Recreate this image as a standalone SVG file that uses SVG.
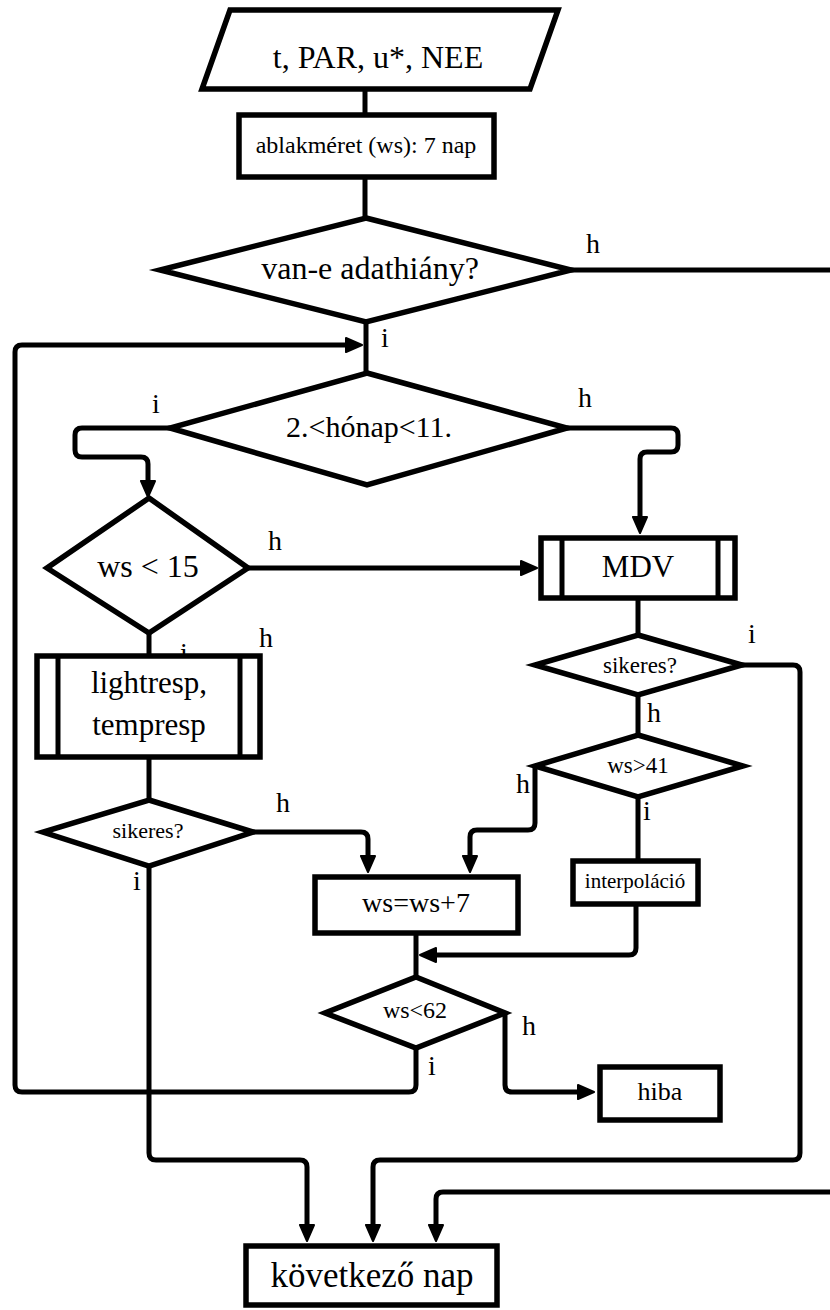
<svg xmlns="http://www.w3.org/2000/svg" width="830" height="1310" viewBox="0 0 830 1310" font-family="'Liberation Serif', 'DejaVu Serif', 'Noto Serif', 'Times New Roman', serif">
<style>
  text { font-family: 'Liberation Serif', 'DejaVu Serif', 'Noto Serif', 'Times New Roman', serif; fill: #000; }
  .c { text-anchor: middle; }
  .lbl { font-size: 28px; }
  .shape { fill: #fff; stroke: #000; stroke-width: 5.5; stroke-linejoin: miter; stroke-miterlimit: 10; }
  .inner { stroke: #000; stroke-width: 5; fill: none; }
  .conn { fill: none; stroke: #000; stroke-width: 5; stroke-linejoin: round; }
  .arr { marker-end: url(#arr); }
</style>
<defs>
  <marker id="arr" markerUnits="userSpaceOnUse" markerWidth="18" markerHeight="18" viewBox="0 0 18 18" refX="11" refY="9" orient="auto">
    <path d="M1,2 L17,9 L1,16 Z" fill="#000" stroke="#000" stroke-width="2" stroke-linejoin="round"/>
  </marker>
</defs>
<rect width="830" height="1310" fill="#fff"/>

<g id="connectors">
  <path class="conn" d="M365,89 V115"/>
  <path class="conn" d="M365,177 V218"/>
  <path class="conn" d="M571,270 H830"/>
  <path class="conn" d="M366,322 V373"/>
  <path class="conn arr" d="M416,1048 V1085 Q416,1092 409,1092 H22 Q15,1092 15,1085 V352 Q15,345 22,345 H356"/>
  <path class="conn arr" d="M170,428 H82 Q75,428 75,435 V450 Q75,457 82,457 H141 Q148,457 148,464 V491"/>
  <path class="conn arr" d="M567,428 H671 Q678,428 678,435 V445 Q678,452 671,452 H647 Q640,452 640,459 V527"/>
  <path class="conn arr" d="M248,568 H531"/>
  <path class="conn" d="M149,633 V656"/>
  <path class="conn" d="M149,758 V800"/>
  <path class="conn arr" d="M253,832 H361 Q368,832 368,839 V866"/>
  <path class="conn arr" d="M149,866 V1153 Q149,1160 156,1160 H300 Q307,1160 307,1167 V1235"/>
  <path class="conn" d="M638,598 V635"/>
  <path class="conn arr" d="M742,665 H793 Q800,665 800,672 V1153 Q800,1160 793,1160 H380 Q373,1160 373,1167 V1235"/>
  <path class="conn" d="M638,695 V735"/>
  <path class="conn arr" d="M535,766 V823 Q535,830 528,830 H477 Q470,830 470,837 V866"/>
  <path class="conn" d="M638,797 V861"/>
  <path class="conn arr" d="M636,904 V948 Q636,955 629,955 H426"/>
  <path class="conn" d="M416,933 V977"/>
  <path class="conn arr" d="M505,1013 V1085 Q505,1092 512,1092 H588"/>
  <path class="conn arr" d="M830,1192 H443 Q436,1192 436,1199 V1235"/>

  <text class="lbl" x="586" y="253">h</text>
  <text class="lbl" x="381" y="347">i</text>
  <text class="lbl" x="152" y="413">i</text>
  <text class="lbl" x="578" y="407">h</text>
  <text class="lbl" x="268" y="550">h</text>
  <text class="lbl" x="180" y="662">i</text>
  <text class="lbl" x="259" y="647">h</text>
  <text class="lbl" x="748" y="643">i</text>
  <text class="lbl" x="647" y="722">h</text>
  <text class="lbl" x="276" y="812">h</text>
  <text class="lbl" x="133" y="890">i</text>
  <text class="lbl" x="516" y="793">h</text>
  <text class="lbl" x="643" y="820">i</text>
  <text class="lbl" x="522" y="1035">h</text>
  <text class="lbl" x="428" y="1075">i</text>
</g>

<g id="input">
  <polygon class="shape" points="230,10 558,10 530,89 202,89"/>
  <text class="c" x="378" y="68" font-size="32">t, PAR, u*, NEE</text>
</g>
<g id="ablakmeret">
  <rect class="shape" x="239" y="115" width="255" height="62"/>
  <text class="c" x="366" y="153" font-size="24">ablakméret (ws): 7 nap</text>
</g>
<g id="adathiany">
  <polygon class="shape" points="366,218 571,270 366,322 160,270"/>
  <text class="c" x="370" y="279" font-size="32">van-e adathiány?</text>
</g>
<g id="honap">
  <polygon class="shape" points="367,373 567,428 367,485 170,428"/>
  <text class="c" x="369" y="437" font-size="30">2.&lt;hónap&lt;11.</text>
</g>
<g id="ws15">
  <polygon class="shape" points="149,498 248,568 149,633 47,568"/>
  <text class="c" x="148" y="577" font-size="32">ws &lt; 15</text>
</g>
<g id="lightresp">
  <rect class="shape" x="37" y="656" width="223" height="101"/>
  <line class="inner" x1="58" y1="656" x2="58" y2="757"/>
  <line class="inner" x1="240" y1="656" x2="240" y2="757"/>
  <text class="c" x="149" y="693" font-size="31">lightresp,</text>
  <text class="c" x="149" y="735" font-size="31">tempresp</text>
</g>
<g id="sikeres1">
  <polygon class="shape" points="149,800 253,832 149,866 43,832"/>
  <text class="c" x="148" y="838" font-size="22">sikeres?</text>
</g>
<g id="mdv">
  <rect class="shape" x="541" y="538" width="194" height="60"/>
  <line class="inner" x1="562" y1="538" x2="562" y2="598"/>
  <line class="inner" x1="718" y1="538" x2="718" y2="598"/>
  <text class="c" x="638" y="577" font-size="31">MDV</text>
</g>
<g id="sikeres2">
  <polygon class="shape" points="638,635 742,665 638,695 535,665"/>
  <text class="c" x="640" y="673" font-size="23">sikeres?</text>
</g>
<g id="ws41">
  <polygon class="shape" points="638,735 743,766 638,797 535,766"/>
  <text class="c" x="638" y="773" font-size="23">ws&gt;41</text>
</g>
<g id="interpolacio">
  <rect class="shape" x="573" y="861" width="125" height="43"/>
  <text class="c" x="635" y="888" font-size="21">interpoláció</text>
</g>
<g id="wsplus7">
  <rect class="shape" x="315" y="877" width="203" height="56"/>
  <text class="c" x="416" y="912" font-size="28">ws=ws+7</text>
</g>
<g id="ws62">
  <polygon class="shape" points="416,977 505,1013 416,1048 325,1013"/>
  <text class="c" x="415" y="1018" font-size="24">ws&lt;62</text>
</g>
<g id="hiba">
  <rect class="shape" x="600" y="1067" width="120" height="53"/>
  <text class="c" x="660" y="1100" font-size="26">hiba</text>
</g>
<g id="kovetkezo">
  <rect class="shape" x="246" y="1246" width="251" height="59"/>
  <text class="c" x="372" y="1287" font-size="35">következő nap</text>
</g>
</svg>
